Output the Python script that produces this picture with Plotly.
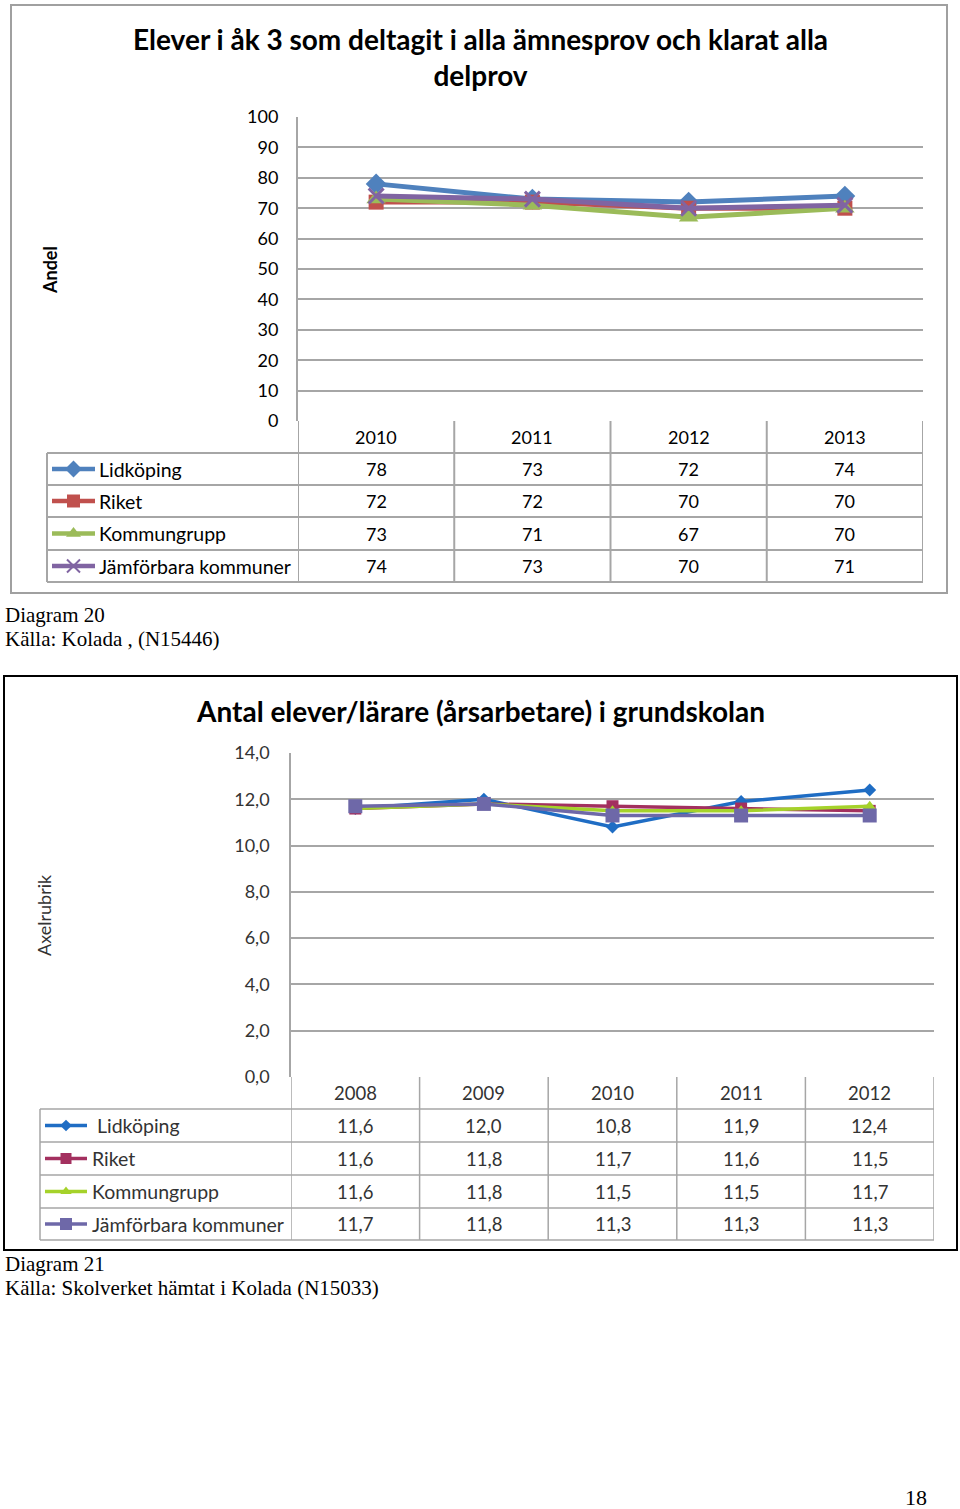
import plotly.graph_objects as go

W, H = 960, 1509

# ---------------- data ----------------
series_names = ["Lidköping", "Riket", "Kommungrupp", "Jämförbara kommuner"]

years1 = ["2010", "2011", "2012", "2013"]
lid1 = [78, 73, 72, 74]
riket1 = [72, 72, 70, 70]
kg1 = [73, 71, 67, 70]
jf1 = [74, 73, 70, 71]

years2 = ["2008", "2009", "2010", "2011", "2012"]
lid2 = [11.6, 12.0, 10.8, 11.9, 12.4]
riket2 = [11.6, 11.8, 11.7, 11.6, 11.5]
kg2 = [11.6, 11.8, 11.5, 11.5, 11.7]
jf2 = [11.7, 11.8, 11.3, 11.3, 11.3]

title1 = "Elever i åk 3 som deltagit i alla ämnesprov och klarat alla<br>delprov"
title2 = "Antal elever/lärare (årsarbetare) i grundskolan"

# ---------------- helpers ----------------
def px(x):
    return x / W

def py(y):
    return 1 - y / H

SANS = "Lato"
SERIF = "Liberation Serif"
GRID = "#A6A6A6"

colors1 = ["#4F81BD", "#C0504D", "#9BBB59", "#8064A2"]
symbols1 = ["diamond", "square", "triangle-up", "x-thin"]
sizes1 = [16, 15, 17, 15]

colors2 = ["#1F6DC4", "#A3305F", "#A5D22A", "#6E68A8"]
symbols2 = ["diamond", "square", "triangle-up", "square"]
sizes2 = [10, 12, 11, 14]

fig = go.Figure()

# chart 1 series
data1 = [lid1, riket1, kg1, jf1]
for name, vals, c, s, sz in zip(series_names, data1, colors1, symbols1, sizes1):
    mk = dict(symbol=s, size=sz, color=c)
    if s == "x-thin":
        mk["line"] = dict(color=c, width=3)
    fig.add_trace(go.Scatter(x=years1, y=vals, mode="lines+markers", name=name,
                             line=dict(color=c, width=5), marker=mk,
                             xaxis="x", yaxis="y", showlegend=False))

# chart 2 series
data2 = [lid2, riket2, kg2, jf2]
for name, vals, c, s, sz in zip(series_names, data2, colors2, symbols2, sizes2):
    fig.add_trace(go.Scatter(x=years2, y=vals, mode="lines+markers", name=name,
                             line=dict(color=c, width=3.5),
                             marker=dict(symbol=s, size=sz, color=c),
                             xaxis="x2", yaxis="y2", showlegend=False))

# legend keys (pixel overlay axis)
def legend_key(x0, x1, ycen, color, symbol, size, lw):
    mk = dict(symbol=symbol, size=size, color=color)
    if symbol == "x-thin":
        mk["line"] = dict(color=color, width=2)
    fig.add_trace(go.Scatter(x=[x0, (x0 + x1) / 2, x1], y=[ycen, ycen, ycen],
                             mode="lines", line=dict(color=color, width=lw),
                             xaxis="x3", yaxis="y3", showlegend=False, hoverinfo="skip"))
    fig.add_trace(go.Scatter(x=[(x0 + x1) / 2], y=[ycen], mode="markers", marker=mk,
                             xaxis="x3", yaxis="y3", showlegend=False, hoverinfo="skip"))

rows1 = [453, 485, 517, 550, 582]
rows2 = [1109, 1142, 1175, 1208, 1240]

for i in range(4):
    yc = (rows1[i] + rows1[i + 1]) / 2
    legend_key(52, 95, yc, colors1[i], symbols1[i], 13, 4.5)
for i in range(4):
    yc = (rows2[i] + rows2[i + 1]) / 2
    legend_key(45, 87, yc, colors2[i], symbols2[i], [9, 11, 10, 12][i], 3.5)

shapes = []
ann = []

def hline(y, x0, x1, color=GRID, w=2):
    shapes.append(dict(type="line", xref="paper", yref="paper", x0=px(x0), x1=px(x1),
                       y0=py(y), y1=py(y), line=dict(color=color, width=w)))

def vline_data(xref, xv, y0, y1, color=GRID, w=2):
    shapes.append(dict(type="line", xref=xref, yref="paper", x0=xv, x1=xv,
                       y0=py(y0), y1=py(y1), line=dict(color=color, width=w)))

def vline(x, y0, y1, color=GRID, w=2):
    shapes.append(dict(type="line", xref="paper", yref="paper", x0=px(x), x1=px(x),
                       y0=py(y0), y1=py(y1), line=dict(color=color, width=w)))

def text(x, y, t, size, font=SANS, color="#000000", xanchor="left", bold=False, angle=0, xref="paper"):
    if bold:
        t = "<b>" + t + "</b>"
    ann.append(dict(x=x if xref != "paper" else px(x), y=py(y), xref=xref, yref="paper",
                    text=t, showarrow=False, xanchor=xanchor, yanchor="middle",
                    font=dict(family=font, size=size, color=color), textangle=angle))

# ---- chart 1 frame & table ----
shapes.append(dict(type="rect", xref="paper", yref="paper", x0=px(11), x1=px(947),
                   y0=py(593), y1=py(5), line=dict(color="#A0A0A0", width=2)))
for r in rows1:
    hline(r, 47, 923)
vline(47, 453, 582)
for k in range(len(years1) + 1):
    vline_data("x", -0.5 + k, 421, 582)
for k, yr in enumerate(years1):
    text(k, 437, yr, 18, xanchor="center", xref="x")
for i, vals in enumerate(data1):
    yc = (rows1[i] + rows1[i + 1]) / 2
    text(97, yc, series_names[i], 19.5)
    for k, v in enumerate(vals):
        text(k, yc, str(v), 18, xanchor="center", xref="x")
text(480, 57, title1, 28, bold=True, xanchor="center")
text(50, 270, "Andel", 18, bold=True, xanchor="center", angle=-90)

# ---- chart 2 frame & table ----
shapes.append(dict(type="rect", xref="paper", yref="paper", x0=px(4), x1=px(957),
                   y0=py(1250), y1=py(676), line=dict(color="#000000", width=2)))
for r in rows2:
    hline(r, 40, 934, w=1.5)
vline(40, 1109, 1240, w=1.5)
for k in range(len(years2) + 1):
    vline_data("x2", -0.5 + k, 1077, 1240, w=1.5)

def fmt(v):
    return ("%.1f" % v).replace(".", ",")

for k, yr in enumerate(years2):
    text(k, 1093, yr, 18.5, xanchor="center", xref="x2", color="#333333")
for i, vals in enumerate(data2):
    yc = (rows2[i] + rows2[i + 1]) / 2
    label = (" " + series_names[i]) if i == 0 else series_names[i]
    text(90, yc, label, 19.5, color="#333333")
    for k, v in enumerate(vals):
        text(k, yc, fmt(v), 18.5, xanchor="center", xref="x2", color="#333333")
text(480, 711, title2, 28, bold=True, xanchor="center")
text(44, 915, "Axelrubrik", 18, xanchor="center", angle=-90, color="#333333")

# ---- captions ----
text(3, 615, "Diagram 20", 21, font=SERIF)
text(3, 639, "Källa: Kolada , (N15446)", 21, font=SERIF)
text(3, 1264, "Diagram 21", 21, font=SERIF)
text(3, 1288, "Källa: Skolverket hämtat i Kolada (N15033)", 21, font=SERIF)
text(916, 1497, "18", 22, font=SERIF, xanchor="center")

fig.update_layout(
    width=W, height=H, autosize=False,
    margin=dict(l=0, r=0, t=0, b=0, pad=0, autoexpand=False),
    paper_bgcolor="#FFFFFF", plot_bgcolor="rgba(0,0,0,0)",
    separators=",.",
    showlegend=False,
    shapes=shapes, annotations=ann,
    xaxis=dict(domain=[px(298), px(923)], range=[-0.5, 3.5], type="category",
               showticklabels=False, showgrid=False, zeroline=False, anchor="y",
               fixedrange=True, automargin=False),
    yaxis=dict(domain=[py(421), py(117)], range=[0, 100], dtick=10, tick0=0,
               showgrid=True, gridcolor=GRID, gridwidth=2, zeroline=False,
               showline=True, linecolor=GRID, linewidth=2, ticks="",
               ticklabelstandoff=14, tickfont=dict(family=SANS, size=18, color="#000000"),
               anchor="x", fixedrange=True, automargin=False),
    xaxis2=dict(domain=[px(291), px(934)], range=[-0.5, 4.5], type="category",
                showticklabels=False, showgrid=False, zeroline=False, anchor="y2",
                fixedrange=True, automargin=False),
    yaxis2=dict(domain=[py(1077), py(753)], range=[0, 14], dtick=2, tick0=0,
                tickformat=".1f",
                showgrid=True, gridcolor=GRID, gridwidth=1.5, zeroline=False,
                showline=True, linecolor=GRID, linewidth=1.5, ticks="",
                ticklabelstandoff=16, tickfont=dict(family=SANS, size=18, color="#333333"),
                anchor="x2", fixedrange=True, automargin=False),
    xaxis3=dict(domain=[0, 1], range=[0, W], visible=False, anchor="y3", fixedrange=True,
                automargin=False),
    yaxis3=dict(domain=[0, 1], range=[H, 0], visible=False, anchor="x3", fixedrange=True,
                automargin=False),
)

fig.write_html("out.html", config={"displayModeBar": False},
               post_script="document.body.style.margin='0';document.body.style.overflow='hidden';")
